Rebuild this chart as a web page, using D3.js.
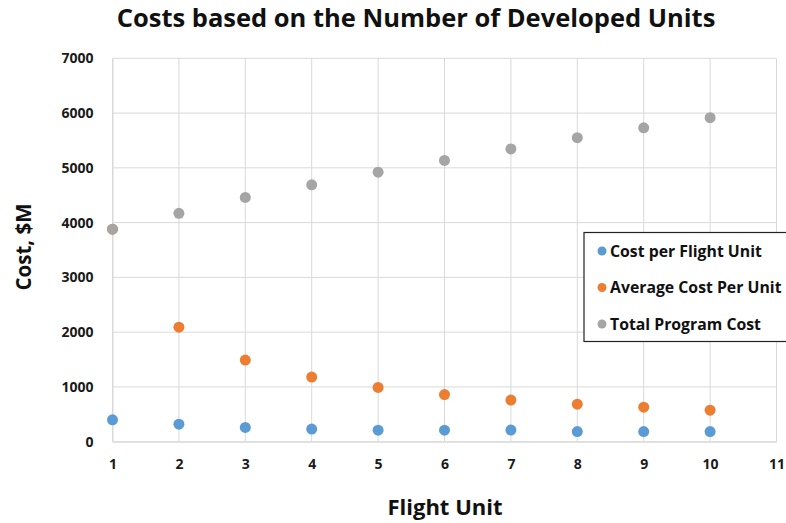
<!DOCTYPE html>
<html>
<head>
<meta charset="utf-8">
<script src="https://cdn.jsdelivr.net/npm/d3@7"></script>
<style>
  html, body { margin: 0; padding: 0; background: #fff; }
  svg { display: block; font-family: "Open Sans", Lato, sans-serif; }
</style>
</head>
<body>
<svg id="chart" width="786" height="523"></svg>
<script>
// Number of flight units built
const units = [1, 2, 3, 4, 5, 6, 7, 8, 9, 10];
// Costs in $M
const costPerFlightUnit = [400, 320, 260, 230, 210, 210, 213, 185, 185, 185];
const averageCostPerUnit = [3880, 2090, 1490, 1180, 990, 860, 760, 685, 630, 575];
const totalProgramCost = [3880, 4170, 4460, 4690, 4920, 5135, 5345, 5550, 5730, 5915];

const xTicks = [1, 2, 3, 4, 5, 6, 7, 8, 9, 10, 11];
const yTicks = [0, 1000, 2000, 3000, 4000, 5000, 6000, 7000];

const series = [
  { name: "Cost per Flight Unit", values: costPerFlightUnit, color: "#5B9BD5" },
  { name: "Average Cost Per Unit", values: averageCostPerUnit, color: "#ED7D31" },
  { name: "Total Program Cost", values: totalProgramCost, color: "#A5A5A5" }
];

const svg = d3.select("#chart");
const plot = { left: 112.5, right: 776.5, top: 58.3, bottom: 441.7 };

const x = d3.scaleLinear().domain([1, 11]).range([plot.left, plot.right]);
const y = d3.scaleLinear().domain([0, 7000]).range([plot.bottom, plot.top]);

// Gridlines
const grid = svg.append("g").attr("stroke", "#d9d9d9").attr("stroke-width", 1);
grid.selectAll("line.h").data(yTicks).join("line")
  .attr("class", "h")
  .attr("x1", plot.left).attr("x2", plot.right)
  .attr("y1", d => y(d)).attr("y2", d => y(d));
grid.selectAll("line.v").data(xTicks).join("line")
  .attr("class", "v")
  .attr("x1", d => x(d)).attr("x2", d => x(d))
  .attr("y1", plot.top).attr("y2", plot.bottom);

// Axes
const xAxis = svg.append("g")
  .attr("transform", `translate(0,${plot.bottom})`)
  .call(d3.axisBottom(x).tickValues(xTicks).tickSize(0).tickPadding(17).tickFormat(d3.format("d")));
const yAxis = svg.append("g")
  .attr("transform", `translate(${plot.left},0)`)
  .call(d3.axisLeft(y).tickValues(yTicks).tickSize(0).tickPadding(19).tickFormat(d3.format("d")));
[xAxis, yAxis].forEach(a => {
  a.select(".domain").attr("stroke", "#d9d9d9");
  a.selectAll("text")
    .attr("font-family", "'Open Sans', sans-serif")
    .attr("font-weight", "bold")
    .attr("font-size", 14)
    .attr("fill", "#1a1a1a");
});

// Points (drawn in series order so the total sits on top)
series.forEach(s => {
  svg.append("g").selectAll("circle")
    .data(units.map((u, i) => ({ u, v: s.values[i] })))
    .join("circle")
    .attr("cx", d => x(d.u))
    .attr("cy", d => y(d.v))
    .attr("r", 5.5)
    .attr("fill", s.color);
});

// Titles
svg.append("text")
  .attr("x", 416).attr("y", 27)
  .attr("text-anchor", "middle")
  .attr("font-weight", "bold")
  .attr("font-size", 25.5)
  .attr("fill", "#111")
  .text("Costs based on the Number of Developed Units");

svg.append("text")
  .attr("transform", "translate(31,247) rotate(-90)")
  .attr("text-anchor", "middle")
  .attr("font-weight", "bold")
  .attr("font-size", 20.5)
  .attr("fill", "#111")
  .text("Cost, $M");

svg.append("text")
  .attr("x", 445).attr("y", 515)
  .attr("text-anchor", "middle")
  .attr("font-weight", "bold")
  .attr("font-size", 22)
  .attr("fill", "#111")
  .text("Flight Unit");

// Legend
const legend = svg.append("g");
legend.append("rect")
  .attr("x", 584).attr("y", 232.5)
  .attr("width", 210).attr("height", 109)
  .attr("fill", "#fff")
  .attr("stroke", "#222").attr("stroke-width", 1.2);
const items = legend.selectAll("g.item").data(series).join("g")
  .attr("class", "item")
  .attr("transform", (d, i) => `translate(602,${251 + i * 36.5})`);
items.append("circle").attr("r", 4.5).attr("fill", d => d.color);
items.append("text")
  .attr("x", 8).attr("dy", "0.35em")
  .attr("font-weight", "bold")
  .attr("font-size", 15.8)
  .attr("fill", "#111")
  .text(d => d.name);
</script>
</body>
</html>
